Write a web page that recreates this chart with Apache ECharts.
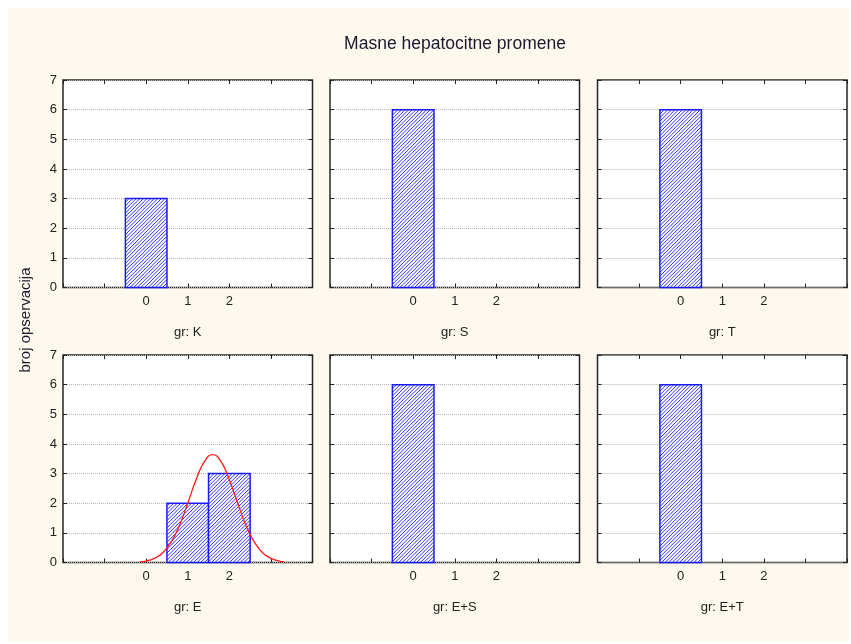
<!DOCTYPE html>
<html><head><meta charset="utf-8">
<script src="https://cdn.jsdelivr.net/npm/echarts@6/dist/echarts.min.js"></script>
<style>html,body{margin:0;padding:0;background:#fff}#c{width:851px;height:644px}</style>
</head><body><div id="c"></div>
<script>
// ---- data ----
const chartTitle = 'Masne hepatocitne promene';
const yAxisTitle = 'broj opservacija';
const groups = ['K', 'S', 'T', 'E', 'E+S', 'E+T'];
const bins = [0, 1, 2];
const countsK = [3, 0, 0];
const countsS = [6, 0, 0];
const countsT = [6, 0, 0];
const countsE = [0, 2, 3];
const countsES = [6, 0, 0];
const countsET = [6, 0, 0];
const allCounts = [countsK, countsS, countsT, countsE, countsES, countsET];
const xTickLabels = ['0', '1', '2'];
const yTickLabels = ['0', '1', '2', '3', '4', '5', '6', '7'];
// normal curve over group E
const curveX = [-0.15, 0, 0.2, 0.4, 0.6, 0.8, 1.0, 1.2, 1.4, 1.6, 1.8, 2.0, 2.2, 2.4, 2.6, 2.8, 3.0, 3.2, 3.32];
const curveY = [0.02, 0.05, 0.14, 0.33, 0.69, 1.25, 2.0, 2.79, 3.4, 3.64, 3.4, 2.79, 2.0, 1.25, 0.69, 0.33, 0.14, 0.05, 0.03];

// ---- layout ----
const FONT = '"Liberation Sans", Arial, sans-serif';
const colLefts = [63, 330, 597.5];
const rowTops = [80, 355];
const gridW = 249.5, gridH = 207.5;
const HATCH_STEP = 3.6;
const BLUE = '#1a1aff';
const HATCH_BLUE = '#3030ff';

const grids = [], xAxes = [], yAxes = [], series = [];
groups.forEach((g, i) => {
  const r = Math.floor(i / 3), c = i % 3;
  grids.push({ left: colLefts[c], top: rowTops[r], width: gridW, height: gridH,
    show: true, backgroundColor: '#ffffff', borderColor: '#262626', borderWidth: 1.5 });
  const tick = { inside: true, length: 4, lineStyle: { color: '#222', width: 1 } };
  const noLine = { show: false, onZero: false };
  xAxes.push({ gridIndex: i, type: 'value', min: -2, max: 4, interval: 1, position: 'bottom',
    axisLine: noLine, axisTick: tick, splitLine: { show: false },
    axisLabel: { margin: 7, fontSize: 13, color: '#222', fontFamily: FONT,
      formatter: v => (v >= 0 && v <= 2) ? xTickLabels[v] : '' },
    name: 'gr: ' + g, nameLocation: 'middle', nameGap: 38,
    nameTextStyle: { fontSize: 13, color: '#222', fontFamily: FONT } });
  xAxes.push({ gridIndex: i, type: 'value', min: -2, max: 4, interval: 1, position: 'top',
    axisLine: noLine, axisTick: tick, splitLine: { show: false }, axisLabel: { show: false } });
  yAxes.push({ gridIndex: i, type: 'value', min: 0, max: 7, interval: 1, position: 'left',
    axisLine: noLine, axisTick: tick,
    splitLine: { show: true, lineStyle: { color: '#b4b4b4', type: 'dotted', width: 1 } },
    axisLabel: { show: c === 0, margin: 6, fontSize: 13, color: '#222', fontFamily: FONT,
      formatter: v => yTickLabels[v] } });
  yAxes.push({ gridIndex: i, type: 'value', min: 0, max: 7, interval: 1, position: 'right',
    axisLine: noLine, axisTick: tick, splitLine: { show: false }, axisLabel: { show: false } });
  series.push({
    type: 'custom', xAxisIndex: 2 * i, yAxisIndex: 2 * i, coordinateSystem: 'cartesian2d',
    data: bins.map((b, k) => [b, allCounts[i][k]]),
    encode: { x: 0, y: 1 }, z: 3,
    renderItem: function (params, api) {
      const x = api.value(0), y = api.value(1);
      if (!(y > 0)) return null;
      const p0 = api.coord([x - 0.5, y]);
      const p1 = api.coord([x + 0.5, 0]);
      const x0 = p0[0], y0 = p0[1], x1 = p1[0], y1 = p1[1];
      const children = [{ type: 'rect', shape: { x: x0, y: y0, width: x1 - x0, height: y1 - y0 },
        style: { fill: '#ffffff' } }];
      // "/" hatch lines: x + y = k
      const kStart = Math.ceil((x0 + y0) / HATCH_STEP) * HATCH_STEP;
      for (let k = kStart; k < x1 + y1; k += HATCH_STEP) {
        const xa = Math.max(x0, k - y1), xb = Math.min(x1, k - y0);
        if (xb <= xa) continue;
        children.push({ type: 'line', shape: { x1: xa, y1: k - xa, x2: xb, y2: k - xb },
          style: { stroke: HATCH_BLUE, lineWidth: 1 } });
      }
      children.push({ type: 'rect', shape: { x: x0, y: y0, width: x1 - x0, height: y1 - y0 },
        style: { fill: 'none', stroke: BLUE, lineWidth: 1.5 } });
      return { type: 'group', children: children };
    }
  });
});
series.push({
  type: 'line', xAxisIndex: 6, yAxisIndex: 6, smooth: true, showSymbol: false, symbol: 'none',
  data: curveX.map((x, k) => [x, curveY[k]]), z: 5,
  lineStyle: { color: '#ff1a1a', width: 1.3 }
});

const chart = echarts.init(document.getElementById('c'), null, { renderer: 'canvas' });
chart.setOption({
  backgroundColor: '#ffffff',
  animation: false,
  graphic: [
    { type: 'rect', z: -10, shape: { x: 8, y: 8, width: 841, height: 634 }, style: { fill: '#fef9ee' } },
    { type: 'text', x: 455, y: 44, style: { text: chartTitle, font: '17.5px ' + FONT, fill: '#1a1a2e',
      textAlign: 'center', textVerticalAlign: 'middle' } },
    { type: 'text', x: 26, y: 320, rotation: Math.PI / 2, style: { text: yAxisTitle, font: '15px ' + FONT,
      fill: '#1a1a2e', textAlign: 'center', textVerticalAlign: 'middle' } }
  ],
  grid: grids, xAxis: xAxes, yAxis: yAxes, series: series
});
</script></body></html>
